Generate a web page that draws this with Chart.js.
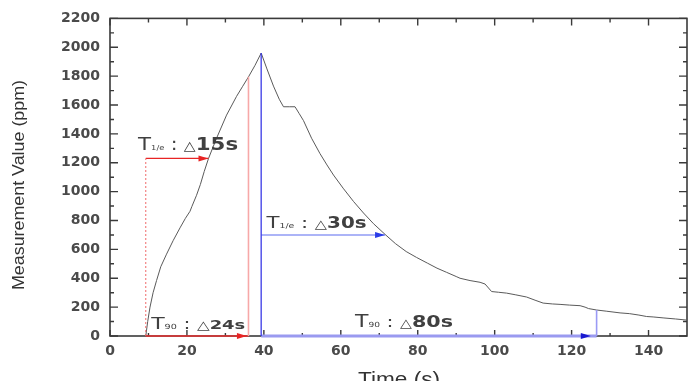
<!DOCTYPE html>
<html><head><meta charset="utf-8">
<script src="https://cdn.jsdelivr.net/npm/chart.js@4.4.1/dist/chart.umd.min.js"></script>
<style>html,body{margin:0;padding:0;background:#fff;overflow:hidden}canvas{display:block}</style>
</head><body>
<canvas id="c" width="698" height="381"></canvas>
<script>
// ---- data ----
const xTicks = [0, 20, 40, 60, 80, 100, 120, 140];
const yTicks = [0, 200, 400, 600, 800, 1000, 1200, 1400, 1600, 1800, 2000, 2200];

const curveTime = [9.3, 9.8, 10.4, 11.2, 12.1, 13.2, 14.7, 16.4, 18.2, 19.6, 20.8, 21.3, 22.5, 23.5, 24.5, 25.6,
  27.7, 30.3, 32.9, 34.5, 36.0, 37.7, 39.3, 40.8, 42.5, 44.0, 45.1, 46.6, 48.1, 49.2, 50.3, 52.4, 54.6, 56.4,
  58.1, 60.6, 63.3, 65.9, 68.5, 71.5, 74.2, 77.0, 79.7, 82.5, 85.0, 87.5, 90.0, 91.0, 93.6, 96.2, 97.5, 99.2,
  101.0, 103.1, 105.5, 108.3, 110.5, 112.6, 115.0, 117.0, 119.5, 122.2, 123.5, 124.4, 126.5, 129.0, 132.6,
  135.0, 137.5, 139.5, 141.2, 144.0, 147.0, 150.0];
const curveValue = [0, 100, 200, 300, 384, 480, 567, 660, 749, 815, 864, 898, 975, 1050, 1140, 1229,
  1370, 1530, 1660, 1730, 1795, 1875, 1960, 1850, 1731, 1640, 1588, 1588, 1588, 1540, 1492, 1370, 1263, 1185,
  1115, 1024, 932, 852, 778, 704, 640, 585, 544, 505, 470, 441, 412, 400, 384, 372, 360, 308,
  303, 297, 285, 270, 248, 228, 222, 219, 214, 210, 200, 190, 180, 172, 160,
  155, 145, 135, 132, 125, 118, 110];

// annotation segments (time, value)
const riseStartX = [9.3, 9.3],   riseStartY = [0, 1230];
const riseHalfX  = [9.3, 25.6],  riseHalfY  = [1230, 1230];
const rise90X    = [36, 36],     rise90Y    = [0, 1795];
const riseSpanX  = [9.3, 36],    riseSpanY  = [0, 0];
const peakX      = [39.3, 39.3], peakY      = [0, 1960];
const fallHalfX  = [39.3, 71.5], fallHalfY  = [700, 700];
const fallSpanX  = [39.3, 126.5],fallSpanY  = [0, 0];
const fall90X    = [126.5, 126.5], fall90Y  = [0, 180];

const arrowTipX = [25.6, 35.6, 71.5, 125.0];
const arrowTipY = [1230, 0, 700, 0];

const labelValues = ['15s', '24s', '30s', '80s'];
const labelSubs   = ['1/e', '90', '1/e', '90'];
const labelX = [7.3, 10.7, 40.7, 63.7];
const labelY = [1286, 48, 749, 60];

// ---- styles ----
const pts = (xs, ys) => xs.map((v, i) => ({x: v, y: ys[i]}));
const seg = (xs, ys, color, width, dash) => ({
  data: pts(xs, ys), showLine: true, borderColor: color, borderWidth: width,
  borderDash: dash || [], pointRadius: 0, tension: 0, clip: false, fill: false
});
const arrowColors = ['#e82424', '#e82424', '#2a3ce8', '#1a1ad0'];
const labelStyle = [
  {T: 18, sub: 7, mid: 17, tri: 13, val: 18, w: 100},
  {T: 16, sub: 7, mid: 15, tri: 12, val: 13, w: 94},
  {T: 16, sub: 7, mid: 16, tri: 12, val: 15, w: 100},
  {T: 17, sub: 7, mid: 16, tri: 12, val: 16, w: 98}
];

function drawRich(ctx, x0, yb, parts, targetW) {
  let total = 0;
  parts.forEach(p => {
    ctx.font = (p.b ? 'bold ' : '') + p.s + 'px "DejaVu Sans"';
    p.w = ctx.measureText(p.t).width; total += p.w;
  });
  const f = targetW / total;
  ctx.save(); ctx.translate(x0, yb); ctx.scale(f, 1);
  ctx.textBaseline = 'alphabetic'; ctx.textAlign = 'left';
  let cx = 0;
  parts.forEach(p => {
    ctx.font = (p.b ? 'bold ' : '') + p.s + 'px "DejaVu Sans"';
    ctx.fillText(p.t, cx, p.dy || 0); cx += p.w;
  });
  ctx.restore();
}
function drawScaledText(ctx, text, font, cx, cy, targetW, rot) {
  ctx.save(); ctx.font = font;
  const w = ctx.measureText(text).width;
  ctx.translate(cx, cy); if (rot) ctx.rotate(rot);
  ctx.scale(targetW / w, 1);
  ctx.textAlign = 'center'; ctx.textBaseline = 'alphabetic';
  ctx.fillText(text, 0, 0);
  ctx.restore();
}

const frameTicks = {
  id: 'frameTicks',
  beforeDatasetsDraw(chart) {
    const {ctx, chartArea: a, scales: {x, y}} = chart;
    ctx.save();
    ctx.strokeStyle = '#3a3a3a'; ctx.lineWidth = 1.6;
    ctx.strokeRect(a.left, a.top, a.right - a.left, a.bottom - a.top);
    ctx.lineWidth = 1.4; ctx.beginPath();
    for (let v = 0; v < 150; v += 10) {
      const px = x.getPixelForValue(v), major = v % 20 === 0;
      ctx.moveTo(px, a.bottom); ctx.lineTo(px, a.bottom - (major ? 6 : 3));
      ctx.moveTo(px, a.top); ctx.lineTo(px, a.top + (major ? 7 : 4));
    }
    for (let v = 0; v <= 2200; v += 100) {
      const py = y.getPixelForValue(v), major = v % 200 === 0;
      ctx.moveTo(a.left, py); ctx.lineTo(a.left + (major ? 8 : 4), py);
      ctx.moveTo(a.right, py); ctx.lineTo(a.right - (major ? 8 : 4), py);
    }
    ctx.stroke(); ctx.restore();
  },
  afterDatasetsDraw(chart) {
    const {ctx, scales: {x, y}} = chart;
    ctx.save();
    arrowTipX.forEach((t, i) => {
      const px = x.getPixelForValue(t), py = y.getPixelForValue(arrowTipY[i]);
      ctx.fillStyle = arrowColors[i];
      ctx.beginPath(); ctx.moveTo(px, py); ctx.lineTo(px - 10, py - 3); ctx.lineTo(px - 10, py + 3);
      ctx.closePath(); ctx.fill();
    });
    ctx.fillStyle = '#404040';
    labelValues.forEach((v, i) => {
      const st = labelStyle[i];
      drawRich(ctx, x.getPixelForValue(labelX[i]), y.getPixelForValue(labelY[i]), [
        {t: 'T', s: st.T}, {t: labelSubs[i], s: st.sub}, {t: ' : ', s: st.mid},
        {t: '\u25B3', s: st.tri}, {t: v, s: st.val, b: true}
      ], st.w);
    });
    ctx.fillStyle = '#333';
    drawScaledText(ctx, 'Measurement Value (ppm)', '17px "Liberation Sans"', 24, 185, 210, -Math.PI / 2);
    drawScaledText(ctx, 'Time (s)', '20px "Liberation Sans"', 399, 386, 82, 0);
    ctx.restore();
  }
};

new Chart(document.getElementById('c'), {
  type: 'scatter',
  data: {
    datasets: [
      seg(riseStartX, riseStartY, '#f06a6a', 1, [2, 2]),
      seg(riseHalfX, riseHalfY, '#e82424', 1.2),
      seg(rise90X, rise90Y, '#f7a8a8', 1.6),
      seg(riseSpanX, riseSpanY, '#e83030', 1.6),
      seg(peakX, peakY, '#3a3ae6', 1.3),
      seg(fallHalfX, fallHalfY, '#5a6af0', 1.1),
      seg(fallSpanX, fallSpanY, '#9a9af0', 3),
      seg(fall90X, fall90Y, '#9a9af5', 1.6),
      {data: pts(curveTime, curveValue), showLine: true, borderColor: '#5a5a5a', borderWidth: 1,
       pointRadius: 0, tension: 0, fill: false}
    ]
  },
  options: {
    responsive: false, animation: false, devicePixelRatio: 1,
    layout: {padding: {top: 15, right: 11, left: 0, bottom: 0}},
    plugins: {legend: {display: false}, tooltip: {enabled: false}},
    scales: {
      x: {
        type: 'linear', min: 0, max: 150,
        afterBuildTicks: s => { s.ticks = xTicks.map(v => ({value: v})); },
        afterFit: s => { s.height = 45; },
        grid: {display: false, drawTicks: false}, border: {display: false},
        ticks: {padding: 7, autoSkip: false, maxRotation: 0, color: '#4a4a4a',
                callback: v => String(v),
                font: {family: 'DejaVu Sans', size: 14, weight: 'bold'}}
      },
      y: {
        type: 'linear', min: 0, max: 2200,
        afterBuildTicks: s => { s.ticks = yTicks.map(v => ({value: v})); },
        afterFit: s => { s.width = 110; },
        grid: {display: false, drawTicks: false}, border: {display: false},
        ticks: {padding: 10, autoSkip: false, color: '#4a4a4a',
                callback: v => String(v),
                font: {family: 'DejaVu Sans', size: 14, weight: 'bold'}}
      }
    }
  },
  plugins: [frameTicks]
});
</script>
</body></html>
